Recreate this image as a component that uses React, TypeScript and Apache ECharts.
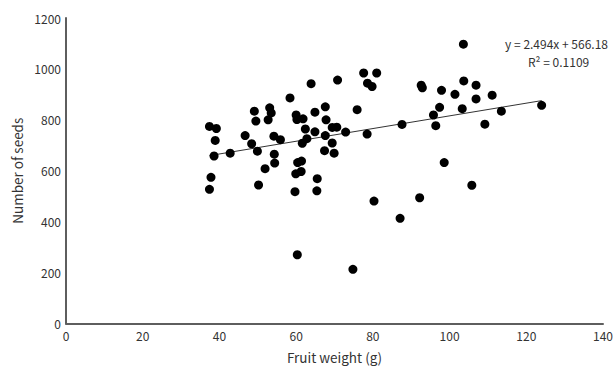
import React, { useEffect, useRef } from "react";
import * as echarts from "echarts";

const fruitWeight: number[] = [
  37.4, 39.2, 38.9, 38.6, 37.8, 37.4, 42.8, 46.7, 48.4, 49.1, 49.5, 49.9, 50.2, 51.9, 52.7, 53.1,
  53.5, 54.2, 54.3, 54.4, 55.9, 58.4, 59.7, 60.0, 60.2, 59.9, 60.3, 60.4, 61.4, 61.3, 61.8, 62.4,
  61.6, 62.8, 63.9, 64.9, 64.9, 65.5, 65.4, 67.6, 67.8, 67.6, 67.4, 69.4, 69.4, 69.9, 70.8, 70.6,
  72.9, 74.8, 75.9, 77.6, 78.6, 79.8, 78.5, 81.0, 80.3, 87.1, 87.6, 92.2, 92.6, 92.9, 95.8, 96.4,
  97.4, 97.9, 98.6, 101.4, 103.6, 103.7, 103.3, 105.8, 106.9, 106.9, 109.2, 111.1, 113.5, 124.0,
];
const seedCount: number[] = [
  774, 766, 719, 658, 574, 527, 669, 738, 706, 834, 795, 677, 544, 608, 800, 847,
  827, 736, 665, 630, 722, 886, 518, 819, 801, 588, 270, 632, 638, 597, 804, 764,
  708, 726, 942, 830, 753, 569, 521, 851, 800, 738, 679, 770, 709, 669, 956, 771,
  752, 213, 840, 984, 944, 931, 744, 984, 481, 413, 782, 494, 936, 926, 819, 777,
  849, 916, 632, 900, 1097, 953, 844, 543, 936, 882, 783, 897, 834, 857,
];
const trendSlope = 2.494;
const trendIntercept = 566.18;
const equationLabels: string[] = ["y = 2.494x + 566.18", "R² = 0.1109"];
const xTicks = { min: 0, max: 140, interval: 20 };
const yTicks = { min: 0, max: 1200, interval: 200 };

const FONT = "'Noto Sans CJK KR', 'Noto Sans', sans-serif";

export default function App() {
  const ref = useRef<HTMLDivElement>(null);
  useEffect(() => {
    if (!ref.current) return;
    const chart = echarts.init(ref.current, null, { renderer: "svg" });
    const points = fruitWeight.map((x, i) => [x, seedCount[i]]);
    const xMin = Math.min(...fruitWeight);
    const xMax = Math.max(...fruitWeight);
    const trend = [
      [xMin, trendSlope * xMin + trendIntercept],
      [xMax, trendSlope * xMax + trendIntercept],
    ];
    chart.setOption({
      animation: false,
      backgroundColor: "#ffffff",
      grid: { left: 66, right: 11, top: 18, bottom: 43, containLabel: false },
      xAxis: {
        type: "value",
        min: xTicks.min,
        max: xTicks.max,
        interval: xTicks.interval,
        name: "Fruit weight (g)",
        nameLocation: "middle",
        nameGap: 27,
        nameTextStyle: { fontFamily: FONT, fontSize: 13.5, color: "#333" },
        axisLine: { show: true, onZero: false, lineStyle: { color: "#5e5e5e", width: 2 } },
        axisTick: { show: false },
        splitLine: { show: false },
        axisLabel: { fontFamily: FONT, fontSize: 12, color: "#333", margin: 6, formatter: (v: number) => String(v) },
      },
      yAxis: {
        type: "value",
        min: yTicks.min,
        max: yTicks.max,
        interval: yTicks.interval,
        name: "Number of seeds",
        nameLocation: "middle",
        nameGap: 38,
        nameTextStyle: { fontFamily: FONT, fontSize: 13.5, color: "#333" },
        axisLine: { show: true, lineStyle: { color: "#5e5e5e", width: 2 } },
        axisTick: { show: false },
        splitLine: { show: false },
        axisLabel: { fontFamily: FONT, fontSize: 12, color: "#333", margin: 5, formatter: (v: number) => String(v) },
      },
      series: [
        {
          type: "line",
          data: trend,
          symbol: "none",
          lineStyle: { color: "#333", width: 1 },
          z: 1,
        },
        {
          type: "scatter",
          data: points,
          symbol: "circle",
          symbolSize: 9,
          itemStyle: { color: "#000000", opacity: 1 },
          z: 2,
        },
      ],
      graphic: [
        {
          type: "text",
          right: 8,
          top: 37,
          style: { text: equationLabels[0], fontFamily: FONT, fontSize: 12, fill: "#333" },
        },
        {
          type: "text",
          left: 528,
          top: 55,
          style: { text: equationLabels[1], fontFamily: FONT, fontSize: 12, fill: "#333" },
        },
      ],
    });
    return () => chart.dispose();
  }, []);
  return <div ref={ref} style={{ position: "absolute", left: 0, top: 0, width: 616, height: 369 }} />;
}
